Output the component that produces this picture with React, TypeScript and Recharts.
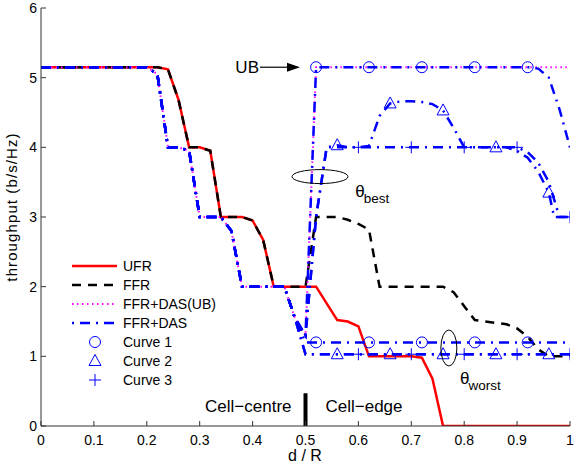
import React from 'react';
import { ComposedChart, Line, XAxis, YAxis, ReferenceLine, ReferenceDot } from 'recharts';

const FONT = '"Liberation Sans", Arial, Helvetica, sans-serif';

type Pt = [number, number];

// ---- data ----
const xTicks = [0, 0.1, 0.2, 0.3, 0.4, 0.5, 0.6, 0.7, 0.8, 0.9, 1];
const yTicks = [0, 1, 2, 3, 4, 5, 6];

// common part of UFR / FFR (cell centre)
const centreFR: Pt[] = [
  [0, 5.15], [0.22, 5.15], [0.24, 5.12], [0.26, 4.68], [0.28, 4.0], [0.3, 4.0], [0.32, 3.95],
  [0.34, 3.0], [0.36, 3.0], [0.38, 3.0], [0.4, 2.95], [0.42, 2.67], [0.44, 2.0], [0.46, 2.0],
  [0.48, 2.0], [0.5, 2.0],
];
const ufrEdge: Pt[] = [
  [0.52, 2.0], [0.54, 1.76], [0.56, 1.52], [0.58, 1.5], [0.6, 1.43], [0.62, 1.0], [0.64, 1.0],
  [0.66, 1.0], [0.68, 1.0], [0.7, 1.0], [0.72, 0.98], [0.74, 0.68], [0.76, 0], [0.8, 0], [0.9, 0], [1.0, 0],
];
const ffrEdge: Pt[] = [
  [0.52, 3.0], [0.54, 3.0], [0.56, 3.0], [0.58, 2.96], [0.6, 2.9], [0.62, 2.82], [0.64, 2.0],
  [0.66, 2.0], [0.7, 2.0], [0.74, 2.0], [0.76, 2.0], [0.78, 1.92], [0.8, 1.72], [0.82, 1.52],
  [0.84, 1.5], [0.86, 1.48], [0.88, 1.46], [0.9, 1.4], [0.92, 1.28], [0.94, 1.1], [0.96, 1.0],
  [0.98, 1.0], [1.0, 1.0],
];

// common part of FFR+DAS curves (cell centre)
const dasCentre: Pt[] = [
  [0, 5.15], [0.2, 5.15], [0.22, 5.05], [0.24, 4.0], [0.26, 4.0], [0.28, 3.95], [0.3, 3.0],
  [0.32, 3.0], [0.34, 3.0], [0.36, 2.8], [0.38, 2.0], [0.4, 2.0], [0.42, 2.0], [0.44, 2.0],
  [0.46, 2.0], [0.48, 1.55],
];
const ubEdge: Pt[] = [[0.5, 1.3], [0.52, 5.15], [0.6, 5.15], [0.8, 5.15], [1.0, 5.15]];

const curve1Best: Pt[] = [
  [0.5, 1.3], [0.52, 5.15], [0.62, 5.15], [0.72, 5.15], [0.82, 5.15], [0.92, 5.15],
  [0.94, 5.13], [0.96, 5.0], [0.98, 4.55], [1.0, 4.0],
];
const curve1Worst: Pt[] = [
  [0.5, 1.2], [0.52, 1.2], [0.62, 1.2], [0.72, 1.2], [0.82, 1.2], [0.92, 1.2], [1.0, 1.2],
];
const curve2Best: Pt[] = [
  [0.5, 1.3], [0.52, 3.0], [0.54, 4.0], [0.56, 4.03], [0.58, 4.0], [0.6, 4.0], [0.62, 4.02],
  [0.64, 4.45], [0.66, 4.63], [0.68, 4.66], [0.7, 4.66], [0.72, 4.65], [0.74, 4.62], [0.76, 4.53],
  [0.78, 4.28], [0.8, 4.0], [0.86, 4.0], [0.88, 4.0], [0.9, 3.95], [0.92, 3.85], [0.94, 3.65],
  [0.96, 3.35], [0.97, 3.0], [1.0, 3.0],
];
const curve2Worst: Pt[] = [
  [0.5, 1.03], [0.56, 1.03], [0.66, 1.03], [0.76, 1.03], [0.86, 1.03], [0.96, 1.03], [1.0, 1.03],
];
const curve3Best: Pt[] = [
  [0.5, 1.3], [0.52, 3.0], [0.54, 4.0], [0.6, 4.0], [0.7, 4.0], [0.8, 4.0], [0.9, 4.0],
  [0.92, 3.93], [0.94, 3.78], [0.96, 3.5], [0.98, 3.0], [1.0, 3.0],
];
const curve3Worst: Pt[] = [
  [0.5, 1.03], [0.6, 1.03], [0.7, 1.03], [0.8, 1.03], [0.9, 1.03], [1.0, 1.03],
];

const curve1Marks = [0.52, 0.62, 0.72, 0.82, 0.92];
const curve2Marks = [0.56, 0.66, 0.76, 0.86, 0.96];
const curve3Marks = [0.6, 0.7, 0.8, 0.9, 1.0];

const legendItems = ['UFR', 'FFR', 'FFR+DAS(UB)', 'FFR+DAS', 'Curve 1', 'Curve 2', 'Curve 3'];

// ---- styling ----
const BLUE = '#0000ff';
const RED = '#ff0000';
const MAGENTA = '#ff00ff';
const DASH_BLACK = '9 7';
const DASH_BLUE = '10 6 2 6';
const DOT_MAG = '1.5 3.5';

const toData = (pts: Pt[]) => pts.map(([x, y]) => ({ x, y }));

type Kind = 'circle' | 'triangle' | 'plus';

function marker(kind: Kind, cx: number, cy: number) {
  if (kind === 'circle') {
    return <circle cx={cx} cy={cy} r={5.5} fill="none" stroke={BLUE} strokeWidth={1} />;
  }
  if (kind === 'triangle') {
    return (
      <polygon
        points={`${cx},${cy - 6.5} ${cx - 6},${cy + 4.5} ${cx + 6},${cy + 4.5}`}
        fill="none"
        stroke={BLUE}
        strokeWidth={1}
      />
    );
  }
  return (
    <g stroke={BLUE} strokeWidth={1}>
      <line x1={cx - 6} y1={cy} x2={cx + 6} y2={cy} />
      <line x1={cx} y1={cy - 6} x2={cx} y2={cy + 6} />
    </g>
  );
}

const makeDot = (kind: Kind, xs: number[]) => (props: any) => {
  const { cx, cy, payload, index } = props;
  const show = payload && xs.some((v) => Math.abs(v - payload.x) < 1e-9);
  if (!show || cx == null || cy == null) return <g key={`n-${index}`} />;
  return <g key={`m-${index}`}>{marker(kind, cx, cy)}</g>;
};

const textStyle = { fontFamily: FONT, fill: '#000' } as const;

function Legend() {
  const rowY = [266, 285, 304, 323, 342, 361, 380];
  const x1 = 72;
  const x2 = 117;
  const mx = 95;
  const tx = 123;
  return (
    <g>
      <line x1={x1} x2={x2} y1={rowY[0]} y2={rowY[0]} stroke={RED} strokeWidth={2.5} />
      <line x1={x1} x2={x2} y1={rowY[1]} y2={rowY[1]} stroke="#000" strokeWidth={2.5} strokeDasharray={DASH_BLACK} />
      <line x1={x1} x2={x2} y1={rowY[2]} y2={rowY[2]} stroke={MAGENTA} strokeWidth={2} strokeDasharray={DOT_MAG} />
      <line x1={x1} x2={x2} y1={rowY[3]} y2={rowY[3]} stroke={BLUE} strokeWidth={2.5} strokeDasharray="2 6 10 6" />
      {marker('circle', mx, rowY[4])}
      {marker('triangle', mx, rowY[5])}
      {marker('plus', mx, rowY[6])}
      {legendItems.map((t, i) => (
        <text key={t} x={tx} y={rowY[i] + 5} fontSize={14} style={textStyle}>
          {t}
        </text>
      ))}
    </g>
  );
}

const lineCommon = {
  type: 'linear' as const,
  dataKey: 'y',
  isAnimationActive: false,
  activeDot: false,
  legendType: 'none' as const,
};

export default function App() {
  return (
    <div style={{ position: 'absolute', left: 0, top: 0, width: 575, height: 470, background: '#fff' }}>
      <ComposedChart width={575} height={470} margin={{ top: 8, right: 5, left: 0, bottom: 0 }}>
        <XAxis
          type="number"
          dataKey="x"
          domain={[0, 1]}
          ticks={xTicks}
          allowDataOverflow
          height={44}
          stroke="#333"
          tickSize={-5}
          tickMargin={14}
          tick={{ fill: '#000', fontSize: 14, fontFamily: FONT }}
        />
        <YAxis
          type="number"
          domain={[0, 6]}
          ticks={yTicks}
          allowDataOverflow
          width={41}
          stroke="#333"
          tickSize={-5}
          tickMargin={9}
          tick={{ fill: '#000', fontSize: 14, fontFamily: FONT }}
        />
        <Line {...lineCommon} data={toData([...centreFR, ...ufrEdge])} stroke={RED} strokeWidth={2.5} dot={false} />
        <Line
          {...lineCommon}
          data={toData([...centreFR, ...ffrEdge])}
          stroke="#000"
          strokeWidth={2.5}
          strokeDasharray={DASH_BLACK}
          dot={false}
        />
        <Line
          {...lineCommon}
          data={toData([...dasCentre, ...ubEdge])}
          stroke={MAGENTA}
          strokeWidth={2}
          strokeDasharray={DOT_MAG}
          dot={false}
        />
        <Line {...lineCommon} data={toData([...dasCentre, ...curve1Worst])} stroke={BLUE} strokeWidth={2.5} strokeDasharray={DASH_BLUE} dot={makeDot('circle', curve1Marks)} />
        <Line {...lineCommon} data={toData([...dasCentre, ...curve2Worst])} stroke={BLUE} strokeWidth={2.5} strokeDasharray={DASH_BLUE} dot={makeDot('triangle', curve2Marks)} />
        <Line {...lineCommon} data={toData([...dasCentre, ...curve3Worst])} stroke={BLUE} strokeWidth={2.5} strokeDasharray={DASH_BLUE} dot={makeDot('plus', curve3Marks)} />
        <Line {...lineCommon} data={toData([...dasCentre, ...curve3Best])} stroke={BLUE} strokeWidth={2.5} strokeDasharray={DASH_BLUE} dot={makeDot('plus', curve3Marks)} />
        <Line {...lineCommon} data={toData([...dasCentre, ...curve2Best])} stroke={BLUE} strokeWidth={2.5} strokeDasharray={DASH_BLUE} dot={makeDot('triangle', curve2Marks)} />
        <Line {...lineCommon} data={toData([...dasCentre, ...curve1Best])} stroke={BLUE} strokeWidth={2.5} strokeDasharray={DASH_BLUE} dot={makeDot('circle', curve1Marks)} />

        <ReferenceLine
          segment={[{ x: 0.5, y: 0 }, { x: 0.5, y: 0.47 }]}
          stroke="#000"
          strokeWidth={4}
        />
        <ReferenceDot
          x={0.5}
          y={0.2}
          r={0}
          shape={(p: any) => (
            <g>
              <text x={p.cx - 14} y={p.cy} textAnchor="end" fontSize={17} style={textStyle}>
                Cell−centre
              </text>
              <text x={p.cx + 20} y={p.cy} textAnchor="start" fontSize={17} style={textStyle}>
                Cell−edge
              </text>
            </g>
          )}
        />
        <ReferenceDot
          x={0.4896}
          y={5.15}
          r={0}
          shape={(p: any) => (
            <g>
              <text x={p.cx - 41} y={p.cy + 6} textAnchor="end" fontSize={17} style={textStyle}>
                UB
              </text>
              <line x1={p.cx - 40} y1={p.cy} x2={p.cx - 10} y2={p.cy} stroke="#000" strokeWidth={1.2} />
              <polygon points={`${p.cx},${p.cy} ${p.cx - 13},${p.cy - 4.5} ${p.cx - 13},${p.cy + 4.5}`} fill="#000" />
            </g>
          )}
        />
        <ReferenceDot
          x={0.5274}
          y={3.58}
          r={0}
          shape={(p: any) => <ellipse cx={p.cx} cy={p.cy} rx={28} ry={7} fill="none" stroke="#000" strokeWidth={1} />}
        />
        <ReferenceDot
          x={0.594}
          y={3.29}
          r={0}
          shape={(p: any) => (
            <g>
              <text x={p.cx} y={p.cy} fontSize={17} style={textStyle}>θ</text>
              <text x={p.cx + 8.5} y={p.cy + 6} fontSize={13.5} style={textStyle}>best</text>
            </g>
          )}
        />
        <ReferenceDot
          x={0.771}
          y={1.12}
          r={0}
          shape={(p: any) => <ellipse cx={p.cx} cy={p.cy} rx={8} ry={18} fill="none" stroke="#000" strokeWidth={1} />}
        />
        <ReferenceDot
          x={0.792}
          y={0.6}
          r={0}
          shape={(p: any) => (
            <g>
              <text x={p.cx} y={p.cy} fontSize={17} style={textStyle}>θ</text>
              <text x={p.cx + 8.5} y={p.cy + 6} fontSize={13.5} style={textStyle}>worst</text>
            </g>
          )}
        />
      </ComposedChart>
      <svg
        width={575}
        height={470}
        style={{ position: 'absolute', left: 0, top: 0, pointerEvents: 'none' }}
      >
        <Legend />
        <text x={305} y={461} textAnchor="middle" fontSize={16} style={textStyle}>
          d / R
        </text>
        <text
          x={17}
          y={207}
          textAnchor="middle"
          fontSize={15}
          letterSpacing={1.1}
          transform="rotate(-90 17 207)"
          style={textStyle}
        >
          throughput (b/s/Hz)
        </text>
      </svg>
    </div>
  );
}
